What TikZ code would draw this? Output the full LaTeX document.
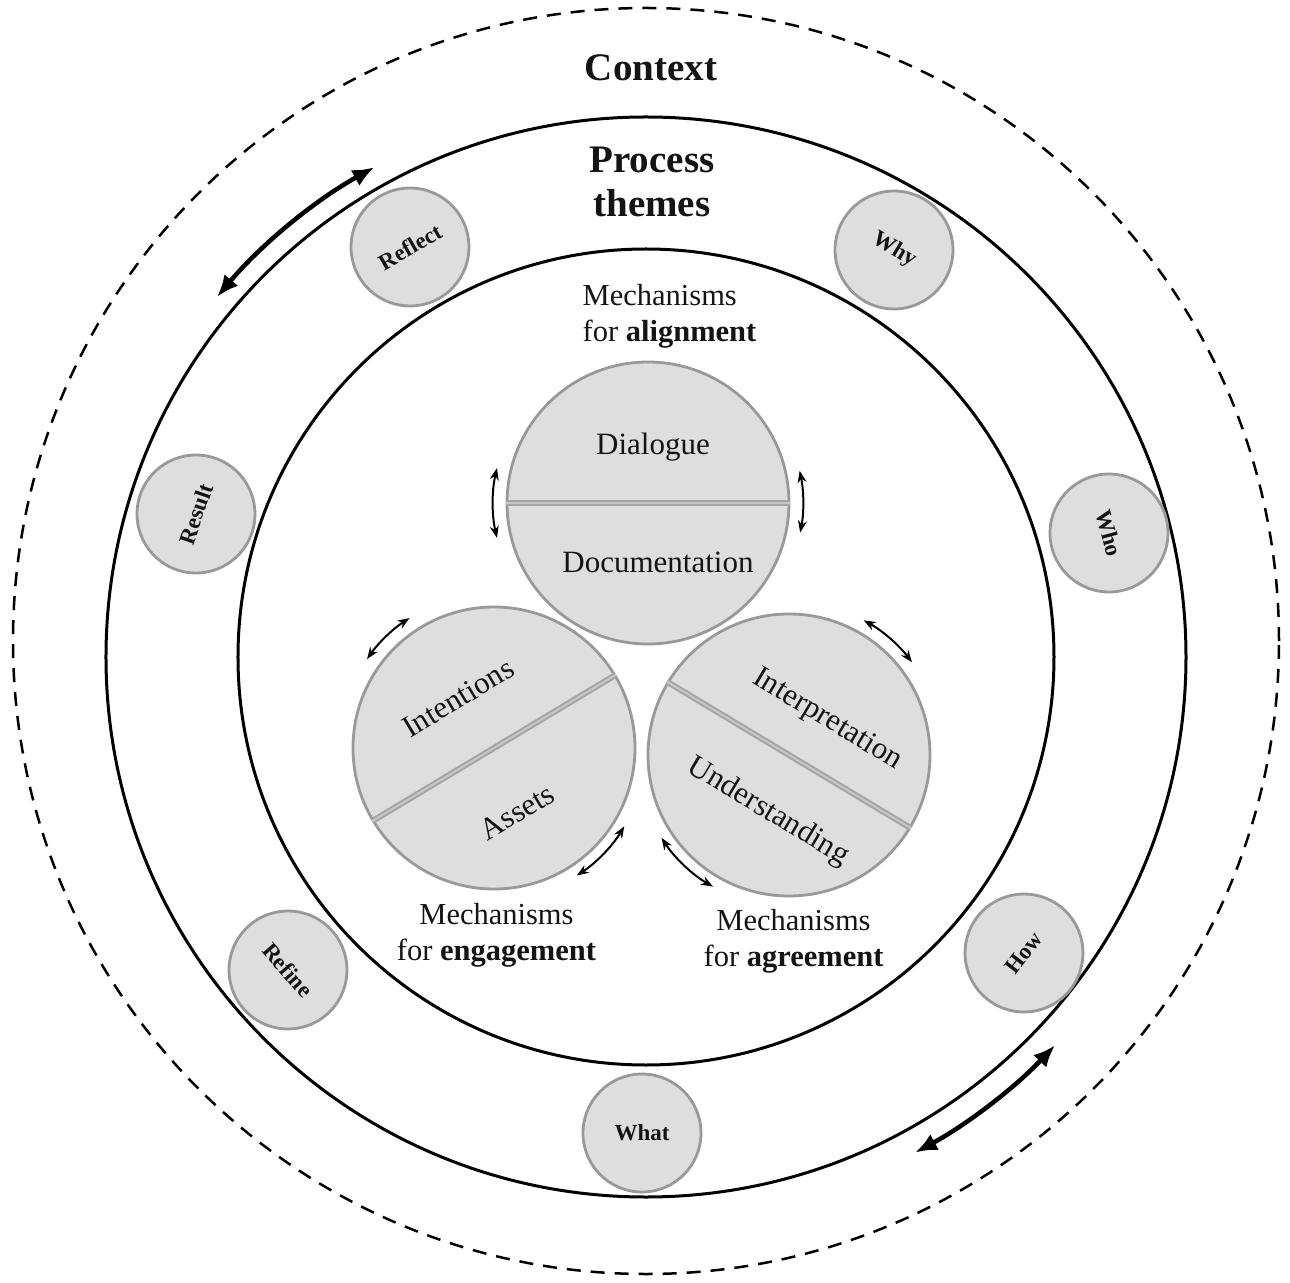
\documentclass[tikz,border=0pt]{standalone}
\usepackage{fontspec}
\setmainfont{Liberation Serif}
\usetikzlibrary{arrows.meta}
\definecolor{cfill}{HTML}{DEDEDE}
\definecolor{cedge}{HTML}{999999}
\definecolor{dvd}{HTML}{A4A4A4}
\definecolor{dvdin}{HTML}{C6C6C6}
\definecolor{ink}{HTML}{141414}
\begin{document}
\begin{tikzpicture}[x=1pt,y=1pt,
  ringline/.style={line width=3pt, draw=black},
  ctxline/.style={line width=2.5pt, draw=black, dash pattern=on 14pt off 10pt},
  themec/.style={circle, draw=cedge, fill=cfill, line width=2.8pt, minimum size=118pt,
    inner sep=0pt, text=ink, font=\fontsize{23}{26}\selectfont\bfseries},
  bigc/.style={circle, draw=cedge, fill=cfill, line width=2.8pt, minimum size=282pt, inner sep=0pt},
  lbl/.style={text=ink, font=\fontsize{31}{36}\selectfont},
  mech/.style={text=ink, font=\fontsize{30.5}{36}\selectfont},
  title/.style={text=ink, font=\fontsize{39}{44}\selectfont\bfseries, align=center},
  boldarrow/.style={line width=4.5pt, {Latex[length=22pt,width=18pt]}-{Latex[length=22pt,width=18pt]}},
  thinarrow/.style={line width=2pt, {Stealth[length=12pt,width=9pt]}-{Stealth[length=12pt,width=9pt]}},
  dividerout/.style={line width=6pt, draw=dvd},
  dividerin/.style={line width=2pt, draw=dvdin}
]
\useasboundingbox[fill=white] (-646,-625) rectangle (644,657);

% context, process ring, mechanisms ring
\draw[ctxline] (0,16) circle[radius=633];
\draw[ringline] (0,0) circle[radius=540];
\draw[ringline] (0,0) circle[radius=408];

\node[title] (context) at (5,589) {Context};
\node[title] (process) at (6,475) {Process\\themes};

% process-theme circles
\node[themec, rotate=30]  (reflect) at (-236,410) {Reflect};
\node[themec, rotate=-31] (why)     at (248,407)  {Why};
\node[themec, rotate=71]  (result)  at (-450,143) {Result};
\node[themec, rotate=-75] (who)     at (463,124)  {Who};
\node[themec, rotate=-49] (refine)  at (-358,-313) {Refine};
\node[themec, rotate=52]  (how)     at (378,-296) {How};
\node[themec]             (what)    at (-4,-476)  {What};

% cycle arrows
\draw[boldarrow] (140:560) arc[start angle=140, end angle=119, radius=560];
\draw[boldarrow] (-61.5:564) arc[start angle=-61.5, end angle=-43.5, radius=564];

% mechanism circles
\node[bigc] (D) at (2,154) {};
\draw[dividerout] (D.180) -- (D.0);
\draw[dividerin] (D.180) -- (D.0);
\node[lbl] (dialogue) at (7,210) {Dialogue};
\node[lbl] (documentation) at (12,95) {Documentation};

\node[bigc] (E) at (-152,-91) {};
\draw[dividerout] (E.211) -- (E.31);
\draw[dividerin] (E.211) -- (E.31);
\node[lbl, rotate=31] (intentions) at (-188,-41) {Intentions};
\node[lbl, rotate=31] (assets) at (-129,-155) {Assets};

\node[bigc] (A) at (143,-98) {};
\draw[dividerout] (A.149) -- (A.-31);
\draw[dividerin] (A.149) -- (A.-31);
\node[lbl, rotate=-31] (interpretation) at (181,-63) {Interpretation};
\node[lbl, rotate=-31] (understanding) at (122,-155) {Understanding};

% small double arrows
\draw[thinarrow] ([shift={(167:155)}]D.center) arc[start angle=167, end angle=193, radius=155];
\draw[thinarrow] ([shift={(12:155)}]D.center) arc[start angle=12, end angle=-11, radius=155];
\draw[thinarrow] ([shift={(145:155)}]E.center) arc[start angle=145, end angle=123, radius=155];
\draw[thinarrow] ([shift={(-57:152)}]E.center) arc[start angle=-57, end angle=-31, radius=152];
\draw[thinarrow] ([shift={(61:154)}]A.center) arc[start angle=61, end angle=37, radius=154];
\draw[thinarrow] ([shift={(213:152)}]A.center) arc[start angle=213, end angle=240, radius=152];

% mechanism captions
\node[mech, align=left] (malign) at (23.5,341) {Mechanisms\\for \textbf{alignment}};
\node[mech, align=center] (mengage) at (-149.5,-278) {Mechanisms\\for \textbf{engagement}};
\node[mech, align=center] (magree) at (147.5,-284) {Mechanisms\\for \textbf{agreement}};
\end{tikzpicture}
\end{document}
